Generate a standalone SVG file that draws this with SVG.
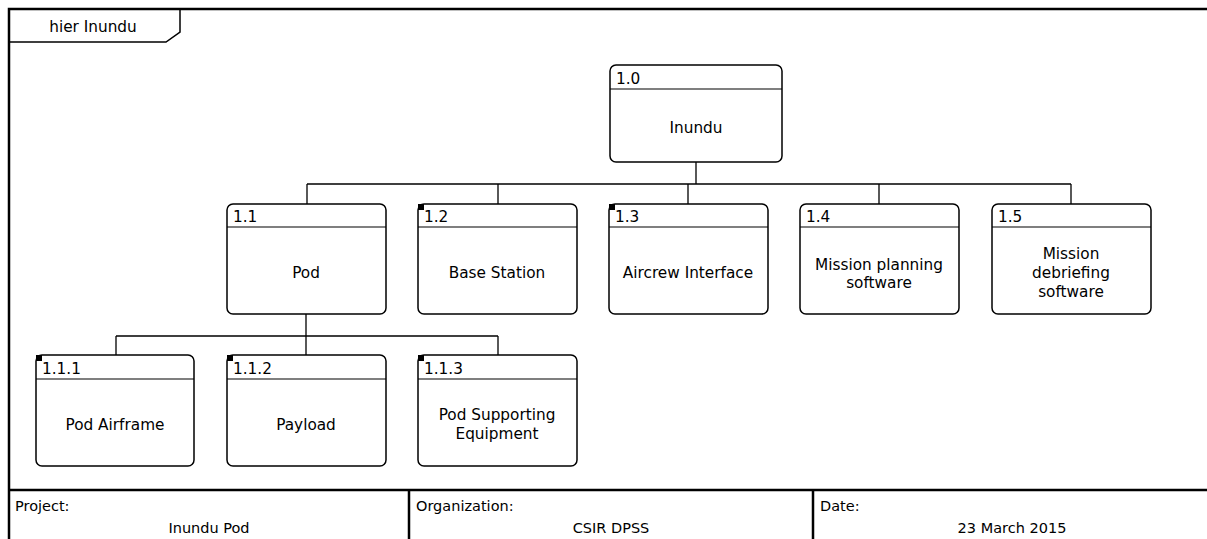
<svg xmlns="http://www.w3.org/2000/svg" width="1207" height="539" viewBox="0 0 1207 539">
<style>
text{font-family:"DejaVu Sans","Liberation Sans",sans-serif;font-size:15.3px;fill:#000}
.c{text-anchor:middle}
.f{font-size:14.5px}
.box{fill:#fff;stroke:#000;stroke-width:1.5}
.hl{stroke:#000;stroke-width:1.2}
.ln{stroke:#000;stroke-width:1.3;fill:none}
.fr{stroke:#000;stroke-width:2.5;fill:none}
</style>
<rect width="1207" height="539" fill="#fff"/>
<g id="frame">
<path class="fr" d="M9 539V9H1210"/>
<path class="fr" d="M9 490H1210M409 490V539M813 490V539"/>
<path d="M180 9V32L166 42H9" stroke="#000" stroke-width="1.5" fill="none"/>
<text x="93" y="32" class="c">hier Inundu</text>
<text x="15" y="511" class="f">Project:</text>
<text x="209" y="533" class="c f">Inundu Pod</text>
<text x="416" y="511" class="f">Organization:</text>
<text x="611" y="533" class="c f">CSIR DPSS</text>
<text x="820" y="511" class="f">Date:</text>
<text x="1012" y="533" class="c f">23 March 2015</text>
</g>
<g id="connectors">
<path class="ln" d="M696 162V184M307 184H1071M307 184V204M498 184V204M688 184V204M879 184V204M1071 184V204"/>
<path class="ln" d="M306 314V336M116 336H498M116 336V355M306 336V355M498 336V355"/>
</g>
<g id="n1_0">
<rect class="box" x="610" y="65" width="172" height="97" rx="6"/>
<line class="hl" x1="610" y1="89" x2="782" y2="89"/>
<text x="616" y="84">1.0</text>
<text x="696" y="133" class="c">Inundu</text>
</g>
<g id="n1_1">
<rect class="box" x="227" y="204" width="159" height="110" rx="6"/>
<line class="hl" x1="227" y1="227" x2="386" y2="227"/>
<text x="233" y="222">1.1</text>
<text x="306" y="278" class="c">Pod</text>
</g>
<g id="n1_2">
<rect class="box" x="418" y="204" width="159" height="110" rx="6"/>
<line class="hl" x1="418" y1="227" x2="577" y2="227"/>
<rect x="418" y="204" width="6" height="6"/>
<text x="424" y="222">1.2</text>
<text x="497" y="278" class="c">Base Station</text>
</g>
<g id="n1_3">
<rect class="box" x="609" y="204" width="159" height="110" rx="6"/>
<line class="hl" x1="609" y1="227" x2="768" y2="227"/>
<rect x="609" y="204" width="6" height="6"/>
<text x="615" y="222">1.3</text>
<text x="688" y="278" class="c">Aircrew Interface</text>
</g>
<g id="n1_4">
<rect class="box" x="800" y="204" width="159" height="110" rx="6"/>
<line class="hl" x1="800" y1="227" x2="959" y2="227"/>
<text x="806" y="222">1.4</text>
<text x="879" y="270" class="c">Mission planning</text>
<text x="879" y="288" class="c">software</text>
</g>
<g id="n1_5">
<rect class="box" x="992" y="204" width="159" height="110" rx="6"/>
<line class="hl" x1="992" y1="227" x2="1151" y2="227"/>
<text x="998" y="222">1.5</text>
<text x="1071" y="259" class="c">Mission</text>
<text x="1071" y="278" class="c">debriefing</text>
<text x="1071" y="297" class="c">software</text>
</g>
<g id="n1_1_1">
<rect class="box" x="36" y="355" width="158" height="111" rx="6"/>
<line class="hl" x1="36" y1="379" x2="194" y2="379"/>
<rect x="36" y="355" width="6" height="6"/>
<text x="42" y="374">1.1.1</text>
<text x="115" y="430" class="c">Pod Airframe</text>
</g>
<g id="n1_1_2">
<rect class="box" x="227" y="355" width="159" height="111" rx="6"/>
<line class="hl" x1="227" y1="379" x2="386" y2="379"/>
<rect x="227" y="355" width="6" height="6"/>
<text x="233" y="374">1.1.2</text>
<text x="306" y="430" class="c">Payload</text>
</g>
<g id="n1_1_3">
<rect class="box" x="418" y="355" width="159" height="111" rx="6"/>
<line class="hl" x1="418" y1="379" x2="577" y2="379"/>
<rect x="418" y="355" width="6" height="6"/>
<text x="424" y="374">1.1.3</text>
<text x="497" y="420" class="c">Pod Supporting</text>
<text x="497" y="439" class="c">Equipment</text>
</g>
</svg>
